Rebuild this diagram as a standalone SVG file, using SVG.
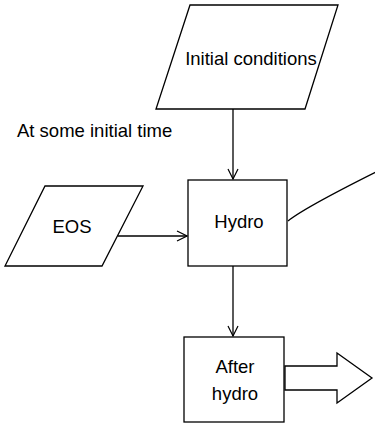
<svg xmlns="http://www.w3.org/2000/svg" width="375" height="424" viewBox="0 0 375 424">
  <defs>
    <marker id="open-arrow" viewBox="0 0 12 12" refX="11" refY="6" markerWidth="12" markerHeight="12" markerUnits="userSpaceOnUse" orient="auto">
      <path d="M1 1 L11 6 L1 11" fill="none" stroke="#000" stroke-width="1.2"/>
    </marker>
  </defs>
  <style>
    .shape { fill: #fff; stroke: #000; stroke-width: 1.3; }
    .link { fill: none; stroke: #000; stroke-width: 1.3; }
    .label { font-family: "Liberation Sans", Arial, sans-serif; font-size: 18.5px; fill: #000; }
  </style>
  <rect width="375" height="424" fill="#fff"/>

  <text class="label" x="17" y="137">At some initial time</text>

  <g id="connectors">
    <path class="link" d="M233 109 L233 179" marker-end="url(#open-arrow)"/>
    <path class="link" d="M118 236 L187 236" marker-end="url(#open-arrow)"/>
    <path class="link" d="M233 266 L233 336" marker-end="url(#open-arrow)"/>
    <path class="link" d="M288 221 C299 212 340 190 376 172"/>
  </g>

  <g id="initial-conditions">
    <polygon class="shape" points="190,5 338,5 305,109 156,109"/>
    <text class="label" x="251" y="65" text-anchor="middle">Initial conditions</text>
  </g>

  <g id="eos">
    <polygon class="shape" points="45,186 143,186 102,266 5,266"/>
    <text class="label" x="72" y="233" text-anchor="middle">EOS</text>
  </g>

  <g id="hydro">
    <rect class="shape" x="188" y="180" width="99" height="86"/>
    <text class="label" x="239" y="228" text-anchor="middle">Hydro</text>
  </g>

  <g id="after-hydro">
    <rect class="shape" x="184" y="337" width="100" height="85"/>
    <text class="label" x="235" y="373" text-anchor="middle">After</text>
    <text class="label" x="235" y="400" text-anchor="middle">hydro</text>
  </g>

  <g id="output-arrow">
    <polygon class="shape" points="285,366 337,366 337,353 372,378 337,403 337,390 285,390"/>
  </g>
</svg>
